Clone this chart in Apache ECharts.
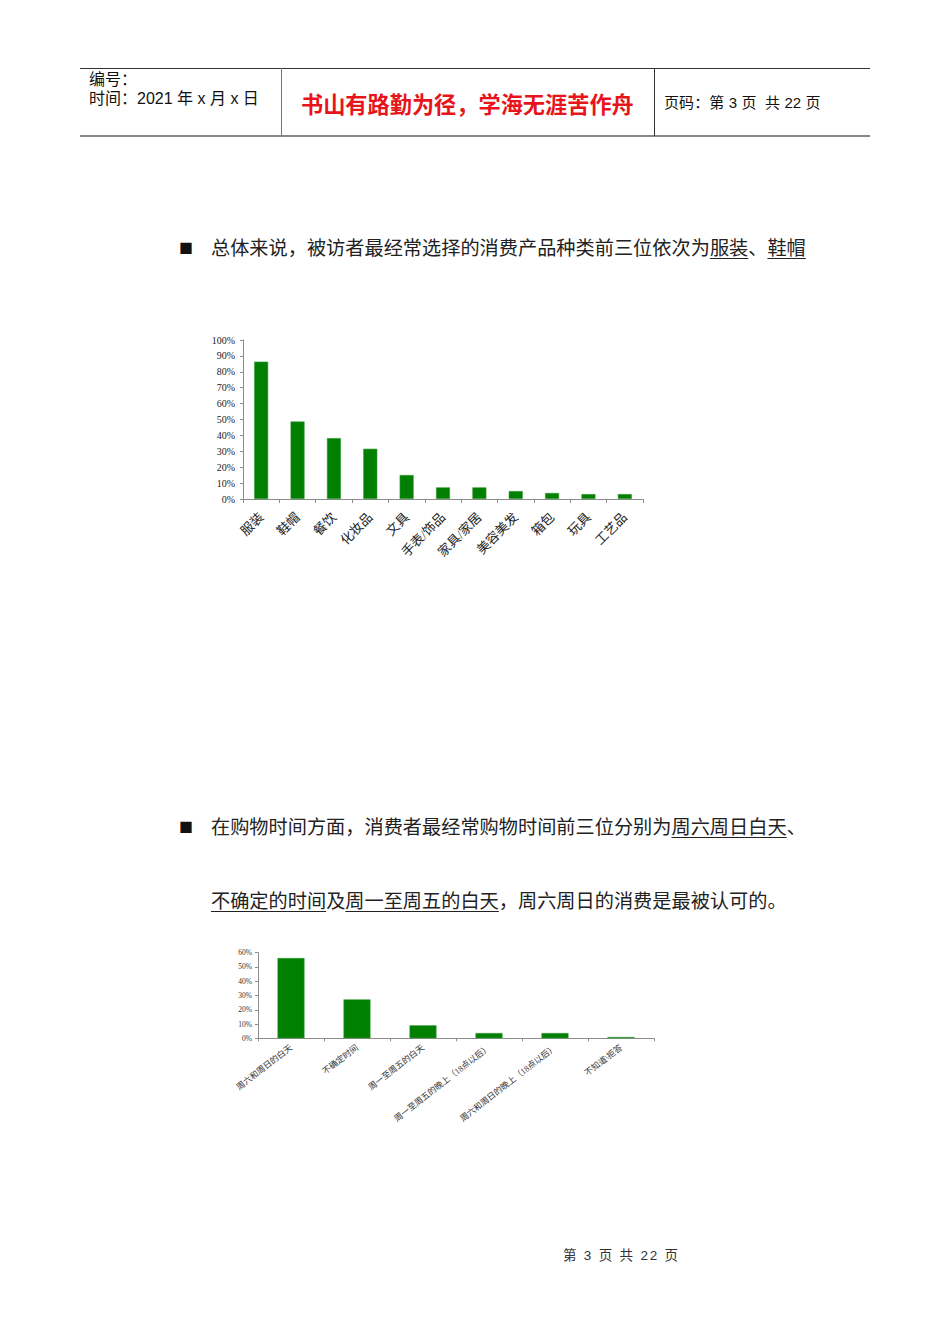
<!DOCTYPE html>
<html><head><meta charset="utf-8">
<script src="https://cdn.jsdelivr.net/npm/echarts@6/dist/echarts.min.js"></script>
<style>
html,body{margin:0;padding:0;background:#fff;}
body{width:950px;height:1344px;position:relative;overflow:hidden;font-family:"Noto Sans CJK SC",sans-serif;color:#111;}
.t{position:absolute;white-space:nowrap;}
.ln{position:absolute;}
.h{font-family:"Liberation Sans","Noto Sans CJK SC",sans-serif;}
u{text-decoration:underline;text-underline-offset:3px;text-decoration-thickness:1px;}
#chart{position:absolute;left:0;top:0;width:950px;height:1344px;}
</style></head>
<body>
<div class="ln" style="left:80px;top:68px;width:790px;height:1px;background:#333;"></div>
<div class="ln" style="left:80px;top:135px;width:790px;height:2px;background:#888;"></div>
<div class="ln" style="left:281px;top:68px;width:1px;height:68px;background:#777;"></div>
<div class="ln" style="left:654px;top:68px;width:1px;height:68px;background:#333;"></div>
<div class="t h" style="left:89px;top:70px;font-size:16px;line-height:20px;">编号：</div>
<div class="t h" style="left:89px;top:89px;font-size:16px;line-height:20px;">时间：2021 年 x 月 x 日</div>
<div class="t" style="left:301px;top:89px;font-size:22.2px;line-height:28px;color:#e8141b;font-weight:bold;">书山有路勤为径，学海无涯苦作舟</div>
<div class="t h" style="left:664px;top:93px;font-size:15px;line-height:20px;letter-spacing:0.1px;">页码：第 3 页&nbsp; 共 22 页</div>

<div class="t" style="left:179px;top:237px;font-size:14px;line-height:20px;">■</div>
<div class="t" style="left:211px;top:235px;font-size:19.2px;line-height:24px;color:#222;">总体来说，被访者最经常选择的消费产品种类前三位依次为<u>服装</u>、<u>鞋帽</u></div>

<div class="t" style="left:179px;top:816px;font-size:14px;line-height:20px;">■</div>
<div class="t" style="left:211px;top:814px;font-size:19.2px;line-height:24px;color:#222;">在购物时间方面，消费者最经常购物时间前三位分别为<u>周六周日白天</u>、</div>
<div class="t" style="left:211px;top:888px;font-size:19.2px;line-height:24px;color:#222;"><u>不确定的时间</u>及<u>周一至周五的白天</u>，周六周日的消费是最被认可的。</div>

<div class="t h" style="left:563px;top:1247px;font-size:13.5px;line-height:18px;color:#333;letter-spacing:1.8px;">第 3 页 共 22 页</div>

<div id="chart"></div>
<script>
var cats1 = ['服装','鞋帽','餐饮','化妆品','文具','手表/饰品','家具/家居','美容美发','箱包','玩具','工艺品'];
var vals1 = [86.4, 48.7, 38.3, 31.6, 15.1, 7.3, 7.3, 5.0, 3.8, 3.1, 3.1];
var cats2 = ['周六和周日的白天','不确定时间','周一至周五的白天','周一至周五的晚上（18点以后）','周六和周日的晚上（18点以后）','不知道\\拒答'];
var vals2 = [56.3, 27.3, 9.1, 3.7, 3.7, 0.9];

var serif = '"Liberation Serif","Noto Sans CJK SC",serif';
var green = '#007f00';
var axisCol = '#8c8c8c';

var chart = echarts.init(document.getElementById('chart'), null, {renderer:'svg'});
chart.setOption({
  animation:false,
  backgroundColor:'transparent',
  grid:[
    {left:243, top:340, width:400, height:159},
    {left:258, top:952.7, width:396, height:85.6}
  ],
  xAxis:[
    {type:'category', gridIndex:0, data:cats1,
     axisLine:{lineStyle:{color:axisCol}},
     axisTick:{show:true, length:4, lineStyle:{color:axisCol}},
     axisLabel:{rotate:45, fontSize:13, color:'#222', fontFamily:serif, margin:16, interval:0}},
    {type:'category', gridIndex:1, data:cats2,
     axisLine:{lineStyle:{color:axisCol}},
     axisTick:{show:true, length:3, lineStyle:{color:axisCol}},
     axisLabel:{rotate:38, fontSize:8.5, color:'#333', fontFamily:serif, margin:8, interval:0}}
  ],
  yAxis:[
    {type:'value', gridIndex:0, min:0, max:100, interval:10,
     axisLine:{show:true, lineStyle:{color:axisCol}},
     axisTick:{show:true, length:3, lineStyle:{color:axisCol}},
     splitLine:{show:false},
     axisLabel:{formatter:'{value}%', fontSize:10, color:'#222', fontFamily:serif, margin:8}},
    {type:'value', gridIndex:1, min:0, max:60, interval:10,
     axisLine:{show:true, lineStyle:{color:axisCol}},
     axisTick:{show:true, length:3, lineStyle:{color:axisCol}},
     splitLine:{show:false},
     axisLabel:{formatter:'{value}%', fontSize:7.5, color:'#333', fontFamily:serif, margin:6}}
  ],
  series:[
    {type:'bar', xAxisIndex:0, yAxisIndex:0, data:vals1, barWidth:14,
     itemStyle:{color:green, borderColor:'#3a9a3a', borderWidth:0.6}},
    {type:'bar', xAxisIndex:1, yAxisIndex:1, data:vals2, barWidth:27,
     itemStyle:{color:green, borderColor:'#3a9a3a', borderWidth:0.6}}
  ]
});
</script>
</body></html>
